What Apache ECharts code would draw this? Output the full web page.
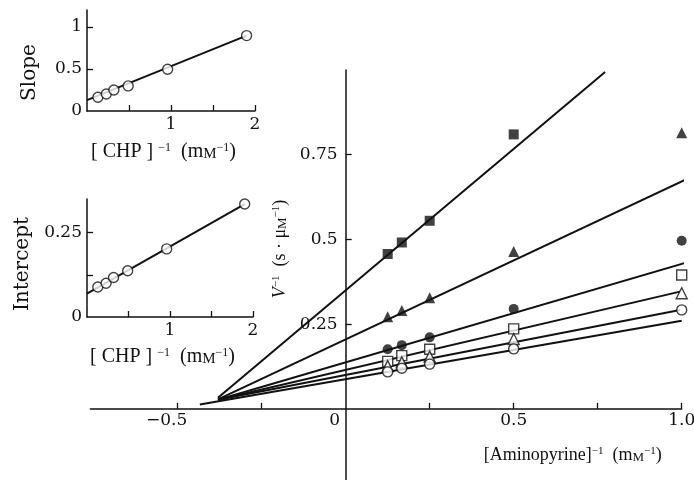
<!DOCTYPE html>
<html>
<head>
<meta charset="utf-8">
<script src="https://cdn.jsdelivr.net/npm/echarts@6.0.0/dist/echarts.min.js"></script>
<style>
html,body{margin:0;padding:0;background:#fff;}
#main{width:694px;height:480px;}
</style>
</head>
<body>
<div id="main"></div>
<script>
var INK = '#111';
var TICK_FONT = "'DejaVu Serif', serif";
var NAME_FONT = "'Liberation Serif', 'DejaVu Serif', serif";

// main plot: 1/[Aminopyrine] vs 1/V, one set per CHP level
var aminoInv = [0.125, 0.167, 0.25, 0.5, 1.0];
var filledSquare = [0.457, 0.491, 0.555, 0.81, null];
var filledTriangle = [0.272, 0.29, 0.328, 0.464, 0.815];
var filledCircle = [0.176, 0.188, 0.211, 0.295, 0.496];
var openSquare = [0.14, 0.157, 0.176, 0.236, 0.395];
var openTriangle = [0.126, 0.137, 0.154, 0.206, 0.341];
var openCircle = [0.109, 0.12, 0.132, 0.177, 0.292];

// fitted lines, read as end points
var fitFromX = [-0.38, -0.38, -0.38, -0.38, -0.38, -0.434];
var fitFromY = [0.033, 0.028, 0.027, 0.027, 0.027, 0.013];
var fitToX = [0.772, 1.034, 1.025, 0.995, 0.995, 1.0];
var fitToY = [0.994, 0.687, 0.435, 0.346, 0.292, 0.26];

// insets (secondary plots)
var chpInv = [0.13, 0.23, 0.32, 0.49, 0.96, 1.9];
var slopeVals = [0.163, 0.202, 0.25, 0.298, 0.496, 0.896];
var interceptVals = [0.089, 0.10, 0.117, 0.137, 0.202, 0.335];
var slopeFitX = [0, 1.9];
var slopeFitY = [0.13, 0.896];
var interceptFitX = [0, 1.9];
var interceptFitY = [0.069, 0.335];

// tick labels
var mainXTicks = [-0.5, -0.25, 0.25, 0.5, 0.75, 1.0];
var mainXLabels = ['−0.5', '0', '0.5', '1.0'];
var mainXLabelVals = [-0.5, 0, 0.5, 1.0];
var mainYTicks = [0.25, 0.5, 0.75];
var mainYLabels = ['0.25', '0.5', '0.75'];
var insetXTicks = [0.5, 1, 1.5, 2];
var insetXLabelVals = [1, 2];
var slopeYTicks = [0.5, 1];
var slopeYLabelVals = [0, 0.5, 1];
var slopeYLabels = ['0', '0.5', '1'];
var interceptYTicks = [0.125, 0.25];
var interceptYLabelVals = [0, 0.25];
var interceptYLabels = ['0', '0.25'];

var X_MIN = -0.76, X_MAX = 1.0, Y_MIN = -0.21, Y_MAX = 1.0;
var G_LEFT = 90.3, G_RIGHT = 12.3, G_TOP = 70, G_BOTTOM = 0;
var plotW = 694 - G_LEFT - G_RIGHT;
var plotH = 480 - G_TOP - G_BOTTOM;
// axes cross at zero, so push them in from the grid edges
var yAxisOffset = -plotW * (0 - X_MIN) / (X_MAX - X_MIN);
var xAxisOffset = -plotH * (0 - Y_MIN) / (Y_MAX - Y_MIN);

function pairs(xs, ys) {
    var out = [];
    for (var i = 0; i < xs.length; i++) {
        if (ys[i] != null) out.push([xs[i], ys[i]]);
    }
    return out;
}

function richFor(size) {
    return {
        sup: {fontSize: Math.round(size * 0.62), fontFamily: NAME_FONT, color: INK, verticalAlign: 'top'},
        sc: {fontSize: Math.round(size * 0.74), fontFamily: NAME_FONT, color: INK, verticalAlign: 'bottom'},
        it: {fontSize: size, fontFamily: NAME_FONT, color: INK, fontStyle: 'italic'},
        br: {fontSize: size, fontFamily: NAME_FONT, color: INK, padding: [0, 5, 0, 5]}
    };
}

var axisLine = {show: true, onZero: false, lineStyle: {color: INK, width: 1.5}};
var tickStyle = {color: INK, width: 1.3};

function insetXAxis(gridIndex, gap) {
    return {
        type: 'value', gridIndex: gridIndex, min: 0, max: 2,
        axisLine: axisLine,
        axisTick: {show: true, inside: true, length: 6, lineStyle: tickStyle, customValues: insetXTicks},
        axisLabel: {fontFamily: TICK_FONT, fontSize: 17, color: INK, margin: 5, customValues: insetXLabelVals},
        splitLine: {show: false},
        name: '{br|[}CHP{br|]}{sup|−1}  (m{sc|M}{sup|−1})',
        nameLocation: 'middle', nameGap: gap,
        nameTextStyle: {fontFamily: NAME_FONT, fontSize: 20, color: INK, padding: [0, 20, 0, 0], rich: richFor(20)}
    };
}

function insetYAxis(gridIndex, max, ticks, labelVals, labels, name, gap, shift) {
    return {
        type: 'value', gridIndex: gridIndex, min: 0, max: max,
        axisLine: axisLine,
        axisTick: {show: true, inside: true, length: 6, lineStyle: tickStyle, customValues: ticks},
        axisLabel: {
            fontFamily: TICK_FONT, fontSize: 17, color: INK, margin: 5, customValues: labelVals,
            formatter: function (v) { return labels[labelVals.indexOf(v)]; }
        },
        splitLine: {show: false},
        name: name, nameLocation: 'middle', nameRotate: 90, nameGap: gap,
        nameTextStyle: {fontFamily: TICK_FONT, fontSize: 20, color: INK, padding: [0, shift, 0, 0]}
    };
}

var markers = [
    {data: filledSquare, symbol: 'rect', filled: true},
    {data: filledTriangle, symbol: 'triangle', filled: true},
    {data: filledCircle, symbol: 'circle', filled: true},
    {data: openSquare, symbol: 'rect', filled: false},
    {data: openTriangle, symbol: 'triangle', filled: false},
    {data: openCircle, symbol: 'circle', filled: false}
];

var series = [];
for (var i = 0; i < fitFromX.length; i++) {
    series.push({
        type: 'line', xAxisIndex: 0, yAxisIndex: 0, clip: false, showSymbol: false, silent: true,
        data: [[fitFromX[i], fitFromY[i]], [fitToX[i], fitToY[i]]],
        lineStyle: {color: INK, width: 2}, z: 2
    });
}
markers.forEach(function (m) {
    series.push({
        type: 'scatter', xAxisIndex: 0, yAxisIndex: 0,
        symbol: m.symbol, symbolSize: m.symbol === 'triangle' ? 11 : 10,
        data: pairs(aminoInv, m.data),
        itemStyle: m.filled ? {color: INK} : {color: '#fff', borderColor: INK, borderWidth: 1.4},
        z: 3
    });
});
series.push({
    type: 'line', xAxisIndex: 1, yAxisIndex: 1, showSymbol: false, silent: true,
    data: pairs(slopeFitX, slopeFitY), lineStyle: {color: INK, width: 2}, z: 2
});
series.push({
    type: 'scatter', xAxisIndex: 1, yAxisIndex: 1, symbol: 'circle', symbolSize: 10,
    data: pairs(chpInv, slopeVals),
    itemStyle: {color: '#fff', borderColor: INK, borderWidth: 1.4}, z: 3
});
series.push({
    type: 'line', xAxisIndex: 2, yAxisIndex: 2, showSymbol: false, silent: true,
    data: pairs(interceptFitX, interceptFitY), lineStyle: {color: INK, width: 2}, z: 2
});
series.push({
    type: 'scatter', xAxisIndex: 2, yAxisIndex: 2, symbol: 'circle', symbolSize: 10,
    data: pairs(chpInv, interceptVals),
    itemStyle: {color: '#fff', borderColor: INK, borderWidth: 1.4}, z: 3
});

var myChart = echarts.init(document.getElementById('main'), null, {renderer: 'canvas'});
myChart.setOption({
    animation: false,
    backgroundColor: '#fff',
    grid: [
        {left: G_LEFT, right: G_RIGHT, top: G_TOP, bottom: G_BOTTOM, outerBoundsMode: 'none', containLabel: false},
        {left: 87, top: 10, width: 168, height: 101, outerBoundsMode: 'none', containLabel: false},
        {left: 87, top: 199, width: 166, height: 118, outerBoundsMode: 'none', containLabel: false}
    ],
    xAxis: [
        {
            type: 'value', gridIndex: 0, min: X_MIN, max: X_MAX,
            position: 'bottom', offset: xAxisOffset,
            axisLine: axisLine,
            axisTick: {show: true, inside: true, length: 6, lineStyle: tickStyle, customValues: mainXTicks},
            axisLabel: {
                fontFamily: TICK_FONT, fontSize: 17, color: INK, margin: 3, customValues: mainXLabelVals,
                formatter: function (v) {
                    var s = mainXLabels[mainXLabelVals.indexOf(v)];
                    if (v <= 0) return '{l|' + s + '}';
                    return s;
                },
                rich: {l: {fontFamily: TICK_FONT, fontSize: 17, color: INK, padding: [0, 22, 0, 0]}}
            },
            splitLine: {show: false},
            name: '[Aminopyrine]{sup|−1}  (m{sc|M}{sup|−1})',
            nameLocation: 'end', nameGap: -20,
            nameTextStyle: {
                fontFamily: NAME_FONT, fontSize: 18, color: INK,
                align: 'right', verticalAlign: 'top', padding: [37, 0, 0, 0], rich: richFor(18)
            }
        },
        insetXAxis(1, 31),
        insetXAxis(2, 30)
    ],
    yAxis: [
        {
            type: 'value', gridIndex: 0, min: Y_MIN, max: Y_MAX,
            position: 'left', offset: yAxisOffset,
            axisLine: axisLine,
            axisTick: {show: true, inside: true, length: 6, lineStyle: tickStyle, customValues: mainYTicks},
            axisLabel: {
                fontFamily: TICK_FONT, fontSize: 17, color: INK, margin: 8, customValues: mainYTicks,
                formatter: function (v) { return mainYLabels[mainYTicks.indexOf(v)]; }
            },
            splitLine: {show: false},
            name: '{it|V}{sup|−1}  (s · μ{sc|M}{sup|−1})',
            nameLocation: 'middle', nameRotate: 90, nameGap: 49,
            nameTextStyle: {
                fontFamily: NAME_FONT, fontSize: 18, color: INK,
                padding: [0, 0, 0, 52], rich: richFor(18)
            }
        },
        insetYAxis(1, 1.2, slopeYTicks, slopeYLabelVals, slopeYLabels, 'Slope', 47, 24),
        insetYAxis(2, 0.35, interceptYTicks, interceptYLabelVals, interceptYLabels, 'Intercept', 54, 12)
    ],
    series: series
});
</script>
</body>
</html>
